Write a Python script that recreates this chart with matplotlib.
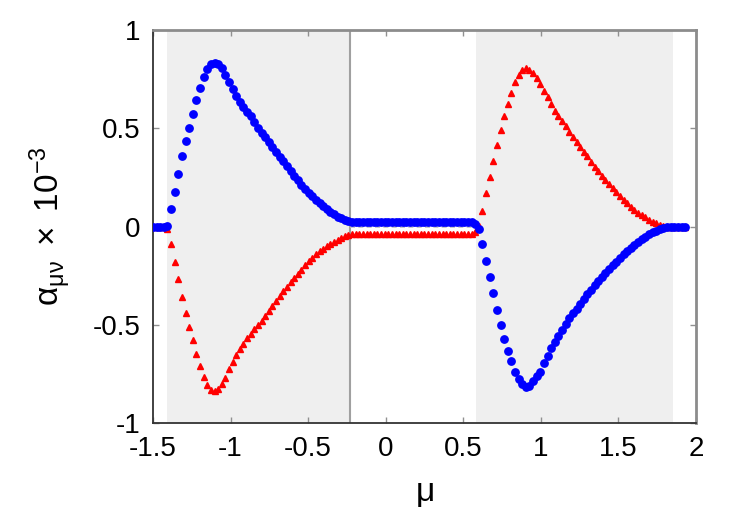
import numpy as np
import matplotlib.pyplot as plt

plt.rcParams['font.family'] = ['Liberation Sans', 'DejaVu Sans']
plt.rcParams['mathtext.fontset'] = 'custom'
plt.rcParams['mathtext.rm'] = 'Liberation Sans'
plt.rcParams['mathtext.it'] = 'Liberation Sans'
plt.rcParams['mathtext.default'] = 'regular'

# sampling grid of chemical potential
mu = np.linspace(-1.5, 1.93, 148)

# alpha_xy (blue circles), units of 1e-3
alpha_blue = [
    0, 0, 0, 0, 0.005, 0.09, 0.175, 0.265, 0.357, 0.435,
    0.503, 0.573, 0.644, 0.705, 0.762, 0.80, 0.825, 0.833, 0.826, 0.806,
    0.772, 0.735, 0.70, 0.664, 0.635, 0.61, 0.585, 0.56, 0.532, 0.503,
    0.478, 0.454, 0.43, 0.405, 0.381, 0.356, 0.332, 0.307, 0.283, 0.258,
    0.235, 0.213, 0.191, 0.172, 0.153, 0.135, 0.119, 0.104, 0.089, 0.076,
    0.063, 0.051, 0.042, 0.035, 0.03,
    0.025, 0.025, 0.025, 0.025, 0.025, 0.025, 0.025, 0.025, 0.025, 0.025,
    0.025, 0.025, 0.025, 0.025, 0.025, 0.025, 0.025, 0.025, 0.025, 0.025,
    0.025, 0.025, 0.025, 0.025, 0.025, 0.025, 0.025, 0.025, 0.025, 0.025,
    0.025, 0.025, 0.025, 0.025, 0.015,
    -0.015, -0.088, -0.177, -0.258, -0.34, -0.424, -0.503, -0.573, -0.632, -0.685,
    -0.74, -0.775, -0.80, -0.815, -0.81, -0.785, -0.762, -0.738, -0.696, -0.66,
    -0.62, -0.585, -0.555, -0.525, -0.494, -0.465, -0.44, -0.417, -0.393, -0.367,
    -0.343, -0.321, -0.299, -0.278, -0.257, -0.236, -0.215, -0.196, -0.178, -0.16,
    -0.142, -0.123, -0.107, -0.092, -0.077, -0.064, -0.052, -0.04, -0.03, -0.021,
    -0.013, -0.007, -0.002, 0, 0, 0, 0, 0,
]

# alpha_yx (red triangles), units of 1e-3
alpha_red = [
    0, 0, 0, 0, -0.015, -0.09, -0.18, -0.268, -0.36, -0.44,
    -0.51, -0.575, -0.648, -0.71, -0.765, -0.807, -0.83, -0.838, -0.825, -0.80,
    -0.768, -0.724, -0.688, -0.652, -0.622, -0.596, -0.567, -0.545, -0.522, -0.50,
    -0.478, -0.456, -0.43, -0.405, -0.38, -0.352, -0.328, -0.306, -0.284, -0.262,
    -0.241, -0.219, -0.198, -0.177, -0.158, -0.14, -0.124, -0.112, -0.10, -0.089,
    -0.077, -0.066, -0.057, -0.05, -0.045,
    -0.04, -0.04, -0.04, -0.04, -0.04, -0.04, -0.04, -0.04, -0.04, -0.04,
    -0.04, -0.04, -0.04, -0.04, -0.04, -0.04, -0.04, -0.04, -0.04, -0.04,
    -0.04, -0.04, -0.04, -0.04, -0.04, -0.04, -0.04, -0.04, -0.04, -0.04,
    -0.04, -0.04, -0.04, -0.04, -0.03,
    0.005, 0.08, 0.17, 0.253, 0.333, 0.415, 0.49, 0.562, 0.624, 0.68,
    0.735, 0.77, 0.795, 0.806, 0.798, 0.782, 0.757, 0.724, 0.69, 0.657,
    0.624, 0.59, 0.562, 0.536, 0.51, 0.483, 0.457, 0.432, 0.406, 0.381,
    0.357, 0.33, 0.304, 0.28, 0.257, 0.236, 0.215, 0.195, 0.175, 0.155,
    0.136, 0.118, 0.10, 0.085, 0.071, 0.06, 0.048, 0.035, 0.025, 0.016,
    0.008, 0.003, 0, 0, 0, 0, 0, 0,
]

# shaded intervals in mu
bands = [(-1.41, -0.227), (0.58, 1.85)]
xticks = [-1.5, -1, -0.5, 0, 0.5, 1, 1.5, 2]
xticklabels = ['-1.5', '-1', '-0.5', '0', '0.5', '1', '1.5', '2']
yticks = [-1, -0.5, 0, 0.5, 1]
yticklabels = ['-1', '-0.5', '0', '0.5', '1']

fig = plt.figure(figsize=(7.5, 5.25), dpi=100)
ax = fig.add_axes([0.204, 0.194, 0.724, 0.749])

for a, b in bands:
    ax.axvspan(a, b, color='#efefef', lw=0, zorder=0)
ax.axvline(bands[0][1], color='#a0a0a0', lw=1.5, zorder=1)
# zero reference between the two bands
ax.hlines(0, bands[0][1], bands[1][0], color='#c0c0c0', lw=1.2,
          linestyles=[(0, (3, 2))], zorder=1)

ax.plot(mu, alpha_red, ls='none', marker='^', ms=4.2, color='#ff0000',
        mec='#ff0000', zorder=3)
ax.plot(mu, alpha_blue, ls='none', marker='o', ms=5.3, color='#0000ff',
        mec='#0000ff', zorder=4)

ax.set_xlim(-1.5, 2)
ax.set_ylim(-1, 1)
ax.set_xticks(xticks)
ax.set_xticklabels(xticklabels)
ax.set_yticks(yticks)
ax.set_yticklabels(yticklabels)
ax.tick_params(direction='in', length=4, width=1, color='#909090',
               labelsize=20, top=True, right=True, pad=9)

for side in ['left', 'bottom']:
    ax.spines[side].set_color('#333333')
    ax.spines[side].set_linewidth(1.3)
for side in ['top', 'right']:
    ax.spines[side].set_color('#8c8c8c')
    ax.spines[side].set_linewidth(2)

ax.set_xlabel(r'$\mu$', fontsize=24, labelpad=12)
ax.set_ylabel(r'$\alpha_{\mu\nu}\ \times\ 10^{-3}$', fontsize=24, labelpad=14)

plt.savefig('out.png', dpi=100)
